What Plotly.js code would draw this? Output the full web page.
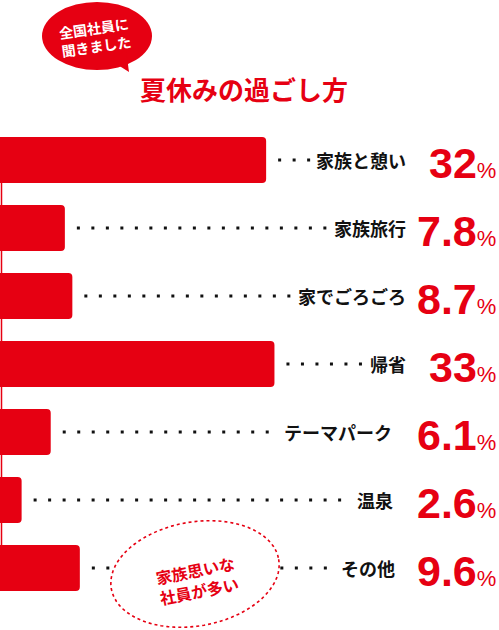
<!DOCTYPE html>
<html>
<head>
<meta charset="utf-8">
<script src="https://cdn.plot.ly/plotly-3.0.1.min.js"></script>
<style>
body { margin: 0; background: #fff; }
#chart { width: 499px; height: 630px; }
</style>
</head>
<body>
<div id="chart"></div>
<script>
// data
items = ["家族と憩い", "家族旅行", "家でごろごろ", "帰省", "テーマパーク", "温泉", "その他"];
values = [32, 7.8, 8.7, 33, 6.1, 2.6, 9.6];
valueText = ["32", "7.8", "8.7", "33", "6.1", "2.6", "9.6"];

RED = "#e60012";
W = 499; H = 630;
M = {l: 0, r: 0, t: 126, b: 28};
XMAX = 60;
pxPerUnit = W / XMAX;
DOT = 3; PITCH = 14.5;

function px(x){ return x / W; }
function py(y){ return (H - M.b - y) / (H - M.t - M.b); }
function toX(x){ return x / pxPerUnit; }

// where each label ends (px), first rows sit a bit further right
labelEnd = [408, 408, 408, 408, 394, 395, 397];

function labelWidth(s){
    var w = 0;
    for(var i = 0; i < s.length; i++){
        w += (s[i] == "ー") ? 20 : 18;
    }
    return w;
}

var bars = {
    type: 'bar',
    orientation: 'h',
    y: items,
    x: values,
    width: 0.676,
    marker: {color: RED, cornerradius: 4},
    hoverinfo: 'none'
};

var data = [bars];
for(var i = 0; i < items.length; i++){
    // leader dots: whole dots only, from bar end to label
    var s = values[i] * pxPerUnit + 12;
    var room = labelEnd[i] - labelWidth(items[i]) - 6 - DOT - s;
    var n = Math.floor(room / PITCH);
    var e = s + n * PITCH + DOT;
    data.push({
        type: 'scatter',
        mode: 'lines',
        x: [toX(s), toX(e)],
        y: [items[i], items[i]],
        line: {color: '#111', width: 3, dash: DOT + 'px,' + (PITCH - DOT) + 'px'},
        hoverinfo: 'none'
    });
}

var annotations = [];
for(var i = 0; i < items.length; i++){
    annotations.push({
        xref: 'paper', yref: 'y',
        x: px(labelEnd[i]), y: items[i],
        xanchor: 'right', yanchor: 'middle',
        text: items[i],
        showarrow: false,
        font: {family: 'Noto Sans CJK JP', size: 18, weight: 700, color: '#111'}
    });
    annotations.push({
        xref: 'paper', yref: 'y',
        x: px(498), y: items[i],
        xanchor: 'right', yanchor: 'middle',
        yshift: -3,
        text: "<b>" + valueText[i] + "</b><span style='font-size:22px'>%</span>",
        showarrow: false,
        font: {family: 'Liberation Sans, Arial', size: 43, color: RED}
    });
}

// title and speech bubble
annotations.push({
    xref: 'paper', yref: 'paper',
    x: px(244), y: py(88),
    xanchor: 'center', yanchor: 'middle',
    text: "夏休みの過ごし方",
    showarrow: false,
    font: {family: 'Noto Sans CJK JP', size: 26, weight: 700, color: RED}
});
annotations.push({
    xref: 'paper', yref: 'paper',
    x: px(95), y: py(37),
    xanchor: 'center', yanchor: 'middle',
    text: "全国社員に<br>聞きました",
    textangle: -8,
    showarrow: false,
    font: {family: 'Noto Sans CJK JP', size: 14, weight: 700, color: '#fff'}
});
annotations.push({
    xref: 'paper', yref: 'paper',
    x: px(197), y: py(580),
    xanchor: 'center', yanchor: 'middle',
    text: "家族思いな<br>社員が多い",
    textangle: -11,
    showarrow: false,
    font: {family: 'Noto Sans CJK JP', size: 16, weight: 700, color: RED}
});

function ellipsePath(cx, cy, rx, ry, deg){
    var a = deg * Math.PI / 180;
    var p = "";
    for(var k = 0; k <= 72; k++){
        var t = k / 72 * 2 * Math.PI;
        var x = cx + rx * Math.cos(t) * Math.cos(a) - ry * Math.sin(t) * Math.sin(a);
        var y = cy + rx * Math.cos(t) * Math.sin(a) + ry * Math.sin(t) * Math.cos(a);
        p += (k == 0 ? "M" : "L") + px(x) + "," + py(y) + " ";
    }
    return p + "Z";
}

var shapes = [
    {
        type: 'line', xref: 'x', yref: 'y', layer: 'below',
        x0: toX(1.5), x1: toX(1.5), y0: -0.34, y1: 5.66,
        line: {color: RED, width: 1.5}
    },
    {
        type: 'circle', xref: 'paper', yref: 'paper',
        x0: px(42), x1: px(152), y0: py(70), y1: py(2),
        fillcolor: RED, line: {width: 0}
    },
    {
        type: 'path', xref: 'paper', yref: 'paper',
        path: "M" + px(110) + "," + py(60) + " L" + px(129) + "," + py(72) + " L" + px(126) + "," + py(50) + " Z",
        fillcolor: RED, line: {width: 0}
    },
    {
        type: 'path', xref: 'paper', yref: 'paper', layer: 'above',
        path: ellipsePath(195, 574, 85, 52, -10),
        fillcolor: '#fff',
        line: {color: RED, width: 1.6, dash: '3px,3px'}
    }
];

var layout = {
    width: W, height: H,
    margin: M,
    paper_bgcolor: '#fff',
    plot_bgcolor: '#fff',
    showlegend: false,
    xaxis: {range: [0, XMAX], visible: false, fixedrange: true},
    yaxis: {
        type: 'category',
        categoryorder: 'array', categoryarray: items,
        range: [6.5, -0.5],
        visible: false, fixedrange: true
    },
    annotations: annotations,
    shapes: shapes
};

Plotly.newPlot('chart', data, layout, {displayModeBar: false, staticPlot: true});
</script>
</body>
</html>
